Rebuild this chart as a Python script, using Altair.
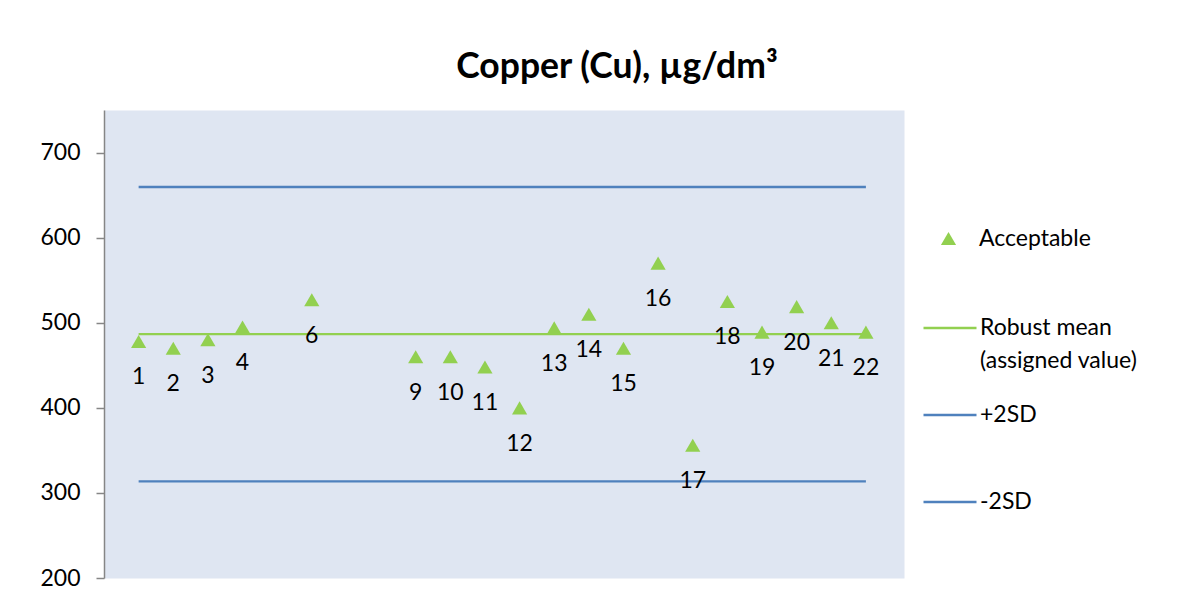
import altair as alt
import pandas as pd

# Participant data (laboratory number, reported copper value)
lab_ids = [1, 2, 3, 4, 6, 9, 10, 11, 12, 13, 14, 15, 16, 17, 18, 19, 20, 21, 22]
cu_values = [478, 470, 480, 495, 527, 460, 460, 448, 400, 494, 510, 470, 570, 356, 525, 489, 519, 500, 489]

# Reference lines
line_names = ["Robust mean (assigned value)", "+2SD", "-2SD"]
line_values = [486.5, 659.5, 313.5]
line_start = [1, 1, 1]
line_end = [22, 22, 22]
line_colors = ["#92D050", "#4F81BD", "#4F81BD"]

point_series = ["Acceptable"]
point_colors = ["#92D050"]

FONT = "Lato"

pts = pd.DataFrame({"lab": lab_ids, "value": cu_values,
                    "label": [str(i) for i in lab_ids],
                    "type": ["Acceptable"] * len(lab_ids)})
lines = pd.DataFrame({"series": line_names, "value": line_values,
                      "x1": line_start, "x2": line_end})

x_scale = alt.Scale(domain=[0, 23.1], nice=False, zero=False)
y_scale = alt.Scale(domain=[200, 750], nice=False, zero=False)

y_axis = alt.Axis(values=[200, 300, 400, 500, 600, 700], grid=False,
                  domainColor="#868686", domainWidth=1.5, tickColor="#868686",
                  tickWidth=1.5, tickSize=8, labelPadding=16,
                  labelFont=FONT, labelFontSize=23, labelColor="#000000",
                  title=None)

rules = alt.Chart(lines).mark_rule(strokeWidth=2.3).encode(
    x=alt.X("x1:Q", scale=x_scale, axis=None),
    x2="x2:Q",
    y=alt.Y("value:Q", scale=y_scale, axis=y_axis),
    stroke=alt.Stroke("series:N",
                      scale=alt.Scale(domain=line_names, range=line_colors),
                      legend=alt.Legend(
                          title=None, orient="none", legendX=818, legendY=190,
                          symbolType="stroke", symbolSize=2809,
                          symbolStrokeWidth=2.3, labelOffset=2,
                          labelFont=FONT, labelFontSize=23, labelColor="#000000",
                          labelLimit=400, rowPadding=14, padding=0,
                          labelExpr="datum.label == 'Robust mean (assigned value)' ? ['Robust mean', '(assigned value)'] : [datum.label, '']",
                      )),
)

points = alt.Chart(pts).mark_point(shape="triangle-up", filled=True, size=230,
                                   opacity=1).encode(
    x=alt.X("lab:Q", scale=x_scale, axis=None),
    y=alt.Y("value:Q", scale=y_scale, axis=y_axis),
    fill=alt.Fill("type:N",
                  scale=alt.Scale(domain=point_series, range=point_colors),
                  legend=alt.Legend(
                      title=None, orient="none", legendX=833, legendY=117,
                      symbolType="triangle-up", symbolSize=230,
                      symbolOpacity=1, symbolStrokeWidth=0, labelOffset=19,
                      labelFont=FONT, labelFontSize=23, labelColor="#000000",
                      padding=0)),
)

labels = alt.Chart(pts).mark_text(dy=36, font=FONT, fontSize=23,
                                  color="#000000").encode(
    x=alt.X("lab:Q", scale=x_scale, axis=None),
    y=alt.Y("value:Q", scale=y_scale),
    text="label:N",
)

chart = alt.layer(rules, points, labels).properties(
    width=800, height=468,
    title=alt.TitleParams("Copper (Cu), µg/dm³", font=FONT, fontSize=35.5,
                          fontWeight="bold", color="#000000", anchor="middle",
                          dx=113, offset=0, dy=3, baseline="alphabetic"),
    autosize=alt.AutoSizeParams(type="none"),
    padding={"left": 96, "top": 102, "right": 285, "bottom": 13},
).configure(
    style={"guide-label": {"lineHeight": 33}}
).configure_view(fill="#DFE6F2", stroke="transparent")

chart.save("out.html", embed_options={"renderer": "svg", "actions": False})
